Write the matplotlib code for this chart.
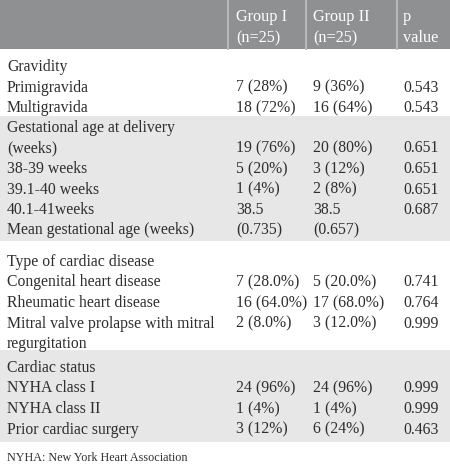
import matplotlib
matplotlib.use("Agg")
import matplotlib.pyplot as plt
from matplotlib.patches import Rectangle

# ---- data ----
header_line1 = ["", "Group I", "Group II", "p"]
header_line2 = ["", "(n=25)", "(n=25)", "value"]

sections = [
    ["Gravidity", "Primigravida", "Multigravida"],
    ["Gestational age at delivery", "(weeks)", "38-39 weeks", "39.1-40 weeks",
     "40.1-41weeks", "Mean gestational age (weeks)"],
    ["Type of cardiac disease", "Congenital heart disease", "Rheumatic heart disease",
     "Mitral valve prolapse with mitral", "regurgitation"],
    ["Cardiac status", "NYHA class I", "NYHA class II", "Prior cardiac surgery"],
]
group1 = [
    ["", "7 (28%)", "18 (72%)"],
    ["", "19 (76%)", "5 (20%)", "1 (4%)", "38.5", "(0.735)"],
    ["", "7 (28.0%)", "16 (64.0%)", "2 (8.0%)", ""],
    ["", "24 (96%)", "1 (4%)", "3 (12%)"],
]
group2 = [
    ["", "9 (36%)", "16 (64%)"],
    ["", "20 (80%)", "3 (12%)", "2 (8%)", "38.5", "(0.657)"],
    ["", "5 (20.0%)", "17 (68.0%)", "3 (12.0%)", ""],
    ["", "24 (96%)", "1 (4%)", "6 (24%)"],
]
pvals = [
    ["", "0.543", "0.543"],
    ["", "0.651", "0.651", "0.651", "0.687", ""],
    ["", "0.741", "0.764", "0.999", ""],
    ["", "0.999", "0.999", "0.463"],
]
footnote = "NYHA: New York Heart Association"

# ---- layout (pixels) ----
W, H = 450, 468
fig = plt.figure(figsize=(W / 100, H / 100), dpi=100)
ax = fig.add_axes([0, 0, 1, 1])
ax.set_xlim(0, W)
ax.set_ylim(H, 0)
ax.axis("off")

font = ["Liberation Serif", "DejaVu Serif"]
fs = 11.3
txt = "#2e2e2e"
hdr_bg = "#8f9092"
light_bg = "#e7e7e7"

col_x = [7, 236, 313, 403]
sep_x = [228, 306, 397]

# header
ax.add_patch(Rectangle((0, 0), W, 49, color=hdr_bg, lw=0))
for sx in sep_x:
    ax.plot([sx, sx], [0, 49], color="#b9babb", lw=1.4)
for x, l1, l2 in zip(col_x, header_line1, header_line2):
    if l1:
        ax.text(x, 17, l1, ha="left", va="center", color="white",
                fontsize=fs + 0.4, family=font)
        ax.text(x, 38, l2, ha="left", va="center", color="white",
                fontsize=fs + 0.4, family=font)

# section bands
bands = [(49, 116, "white"), (116, 241, light_bg), (241, 350, "white"), (350, 442, light_bg)]
starts = [67, 128, 262, 368]
pitch = 20.5
for (y0, y1, c), s0, labs, g1, g2, pv in zip(bands, starts, sections, group1, group2, pvals):
    ax.add_patch(Rectangle((0, y0), W, y1 - y0, color=c, lw=0))
    for i, lab in enumerate(labs):
        y = s0 + i * pitch
        for x, t in zip(col_x, [lab, g1[i], g2[i], pv[i]]):
            if t:
                ax.text(x, y, t, ha="left", va="center", color=txt,
                        fontsize=fs, family=font)

ax.text(7, 458, footnote, ha="left", va="center", color=txt,
        fontsize=8.7, family=font)

fig.savefig("out.png", dpi=100, facecolor="white")
